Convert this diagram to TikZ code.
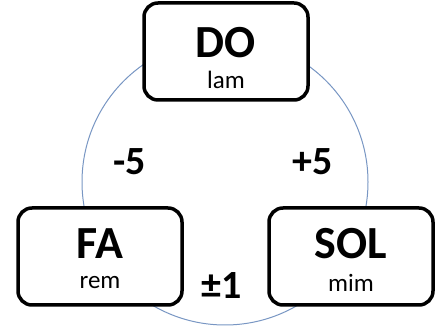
\documentclass[tikz,border=0pt]{standalone}
\usepackage{fontspec}
\setmainfont{Carlito}
\begin{document}
\begin{tikzpicture}[x=1pt,y=1pt,
  box/.style={draw=black,line width=3.5pt,rounded corners=14pt,fill=white,minimum width=164pt,minimum height=97pt,align=center,inner sep=0pt},
  big/.style={font=\fontsize{46}{46}\selectfont\bfseries},
  small/.style={font=\fontsize{25}{25}\selectfont},
  lbl/.style={font=\fontsize{40}{40}\selectfont\bfseries}]
\useasboundingbox (0,0) rectangle (444,328);
\draw[color={rgb,255:red,120;green,150;blue,195},line width=1pt] (225,146) circle (143);
\node[box] (do) at (226,276.5) {};
\node[big] (dot) at (226,285) {DO};
\node[small] (dos) at (226,248) {lam};
\node[box] (fa) at (100,71.5) {};
\node[big] (fat) at (100,84) {FA};
\node[small] (fas) at (100,45) {rem};
\node[box] (sol) at (351,71.5) {};
\node[big] (solt) at (351,84) {SOL};
\node[small] (sols) at (351,45) {mim};
\node[lbl] (m5) at (130,166) {-5};
\node[lbl] (p5) at (313,166) {+5};
\node[lbl] (pm1) at (222,42) {±1};
\end{tikzpicture}
\end{document}
